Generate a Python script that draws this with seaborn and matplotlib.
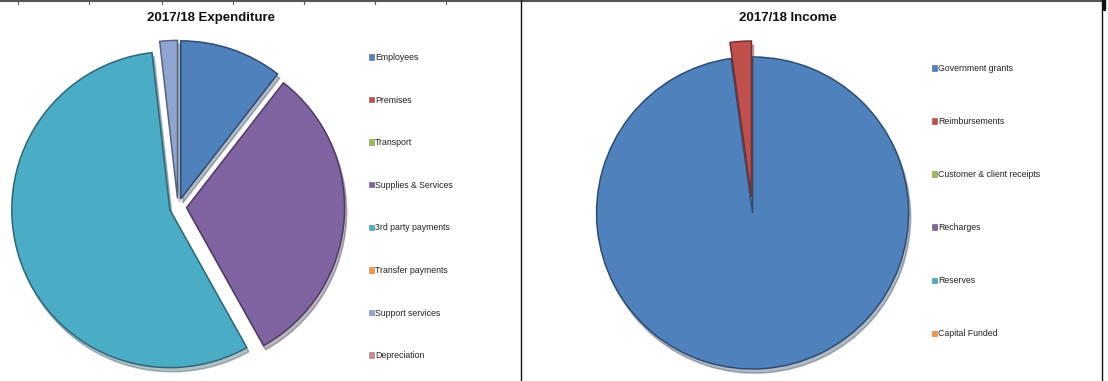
import matplotlib
matplotlib.use("Agg")
import matplotlib.pyplot as plt
from matplotlib.patches import Patch
from matplotlib.lines import Line2D
import matplotlib.colors as mcolors
import seaborn as sns

# ---- data (percent shares) ----
exp_categories = ["Employees", "Premises", "Transport", "Supplies & Services",
                  "3rd party payments", "Transfer payments", "Support services",
                  "Depreciation"]
exp_values = [10.5, 0.0, 0.0, 31.4, 56.3, 0.0, 1.8, 0.0]

inc_categories = ["Government grants", "Reimbursements", "Customer & client receipts",
                  "Recharges", "Reserves", "Capital Funded"]
inc_values = [97.8, 2.2, 0.0, 0.0, 0.0, 0.0]

exp_colors = ["#4F81BD", "#C0504D", "#9BBB59", "#8064A2", "#4BACC6",
              "#F79646", "#8EA5D1", "#C98C8A"]
inc_colors = ["#4F81BD", "#C0504D", "#9BBB59", "#8064A2", "#4BACC6", "#F79646"]

sns.set_theme(style="white")
plt.rcParams["font.family"] = ["Liberation Sans", "DejaVu Sans"]

W, H = 1108, 381
fig = plt.figure(figsize=(W / 100, H / 100), dpi=100)
fig.patch.set_facecolor("white")


def darker(c, f=0.6):
    r, g, b = mcolors.to_rgb(c)
    return (r * f, g * f, b * f)


def panel(x0, x1):
    """Axes spanning a pixel column of the figure, with pixel data units (y up)."""
    ax = fig.add_axes([x0 / W, 0, (x1 - x0) / W, 1])
    return ax


def draw_pie(ax, values, colors, center, radius, explode, xlim):
    vals = [v for v in values if v > 0]
    cols = [c for v, c in zip(values, colors) if v > 0]
    cx, cy = center
    wedges, _ = ax.pie(vals, colors=cols, startangle=90, counterclock=False,
                       center=(cx, H - cy), radius=radius,
                       explode=[explode] * len(vals), frame=True,
                       wedgeprops=dict(linewidth=1.1),
                       shadow=dict(ox=1.5, oy=-3, shade=0.55, alpha=0.35))
    for w, c in zip(wedges, cols):
        w.set_edgecolor(darker(c))
    ax.set_xlim(*xlim)
    ax.set_ylim(0, H)
    ax.set_aspect("equal")
    ax.axis("off")


def add_legend(categories, colors, x, y_top, spacing):
    handles = [Patch(facecolor=c, edgecolor=darker(c, 0.8), linewidth=0.4) for c in colors]
    fig.legend(handles, categories, loc="upper left",
               bbox_to_anchor=(x / W, 1 - y_top / H), bbox_transform=fig.transFigure,
               frameon=False, fontsize=6.3, handlelength=0.6, handleheight=0.6,
               handletextpad=0.1, borderpad=0, borderaxespad=0,
               labelspacing=spacing, labelcolor="#222222")


# ---- expenditure ----
ax1 = panel(0, 521)
draw_pie(ax1, exp_values, exp_colors, (178, 207), 158, 8.6, (0, 521))
fig.text(211 / W, 1 - 18 / H, "2017/18 Expenditure", ha="center", va="center",
         fontsize=9.5, fontweight="bold", color="#111111")
add_legend(exp_categories, exp_colors, 369, 53, 3.84)

# ---- income ----
ax2 = panel(521, 1102)
draw_pie(ax2, inc_values, inc_colors, (752, 205), 156, 8.0, (521, 1102))
fig.text(788 / W, 1 - 18 / H, "2017/18 Income", ha="center", va="center",
         fontsize=9.5, fontweight="bold", color="#111111")
add_legend(inc_categories, inc_colors, 932, 64, 5.04)

# ---- table rules ----
def hline(x0, x1, y, color, lw):
    fig.add_artist(Line2D([x0 / W, x1 / W], [1 - y / H, 1 - y / H],
                          transform=fig.transFigure, color=color, linewidth=lw))


def vline(x, y0, y1, color, lw):
    fig.add_artist(Line2D([x / W, x / W], [1 - y0 / H, 1 - y1 / H],
                          transform=fig.transFigure, color=color, linewidth=lw))


hline(0, 1104, 1.0, "#555555", 1.5)
for tx in [18, 89, 162, 233, 304, 375, 446]:
    vline(tx, 0, 4, "#555555", 0.8)
vline(521, 0, H, "#111111", 1.0)
vline(1102, 0, H, "#111111", 1.0)
vline(1104, 0, 9, "#111111", 2.5)

fig.savefig("out.png", dpi=100, facecolor="white")
